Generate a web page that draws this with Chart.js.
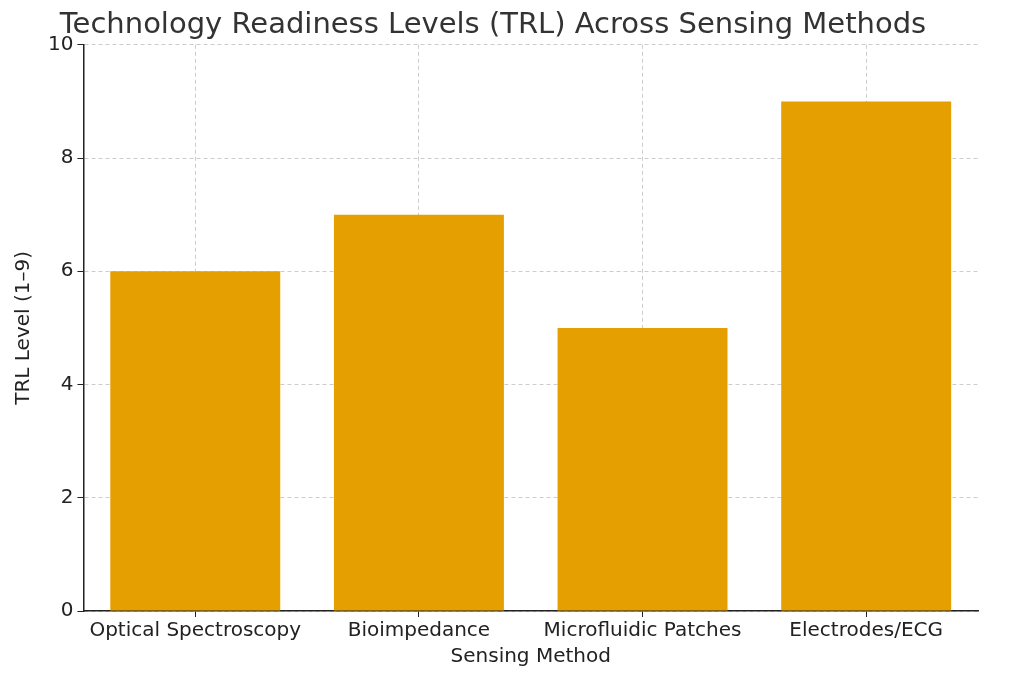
<!DOCTYPE html>
<html>
<head>
<meta charset="utf-8">
<script src="https://cdn.jsdelivr.net/npm/chart.js@4/dist/chart.umd.min.js"></script>
<style>
  body { margin: 0; background: #fff; }
  #wrap { width: 1024px; height: 683px; }
</style>
</head>
<body>
<div id="wrap"><canvas id="grafica"></canvas></div>
<script>
'use strict'
//Datos de la gráfica
const metodos = ['Optical Spectroscopy', 'Bioimpedance', 'Microfluidic Patches', 'Electrodes/ECG'];
const niveles_trl = [6, 7, 5, 9];
const ticks_y = [0, 2, 4, 6, 8, 10];

const ctx = document.getElementById('grafica').getContext('2d');
const fuente = 'DejaVu Sans';

new Chart(ctx, {
    type: 'bar',
    data: {
        labels: metodos,
        datasets: [{
            label: 'TRL',
            data: niveles_trl,
            backgroundColor: '#E69F00',
            categoryPercentage: 1,
            barPercentage: 0.76
        }]
    },
    options: {
        animation: false,
        responsive: true,
        maintainAspectRatio: false,
        layout: { padding: { left: 8, right: 46, top: 0, bottom: 10 } },
        plugins: {
            legend: { display: false },
            tooltip: { enabled: false },
            title: {
                display: true,
                text: 'Technology Readiness Levels (TRL) Across Sensing Methods',
                color: '#333',
                font: { family: fuente, size: 29, weight: 'normal' },
                padding: { top: 8, bottom: 2 }
            }
        },
        scales: {
            x: {
                z: 1,
                grid: { color: '#ccc', tickColor: '#222', tickLength: 6, offset: false },
                border: { color: '#222', width: 1.5, dash: [4, 3] },
                ticks: { color: '#222', font: { family: fuente, size: 20 }, maxRotation: 0, autoSkip: false, padding: 2 },
                title: { display: true, text: 'Sensing Method', color: '#222', font: { family: fuente, size: 20 }, padding: { top: 0 } }
            },
            y: {
                z: 1,
                min: 0,
                max: 10,
                afterBuildTicks: axis => { axis.ticks = ticks_y.map(v => ({ value: v })); },
                grid: { color: '#ccc', tickColor: '#222', tickLength: 6 },
                border: { color: '#222', width: 1.5, dash: [4, 3] },
                ticks: { color: '#222', font: { family: fuente, size: 20 }, padding: 4 },
                title: { display: true, text: 'TRL Level (1–9)', color: '#222', font: { family: fuente, size: 20 }, padding: { bottom: 8 } }
            }
        }
    }
});
</script>
</body>
</html>
